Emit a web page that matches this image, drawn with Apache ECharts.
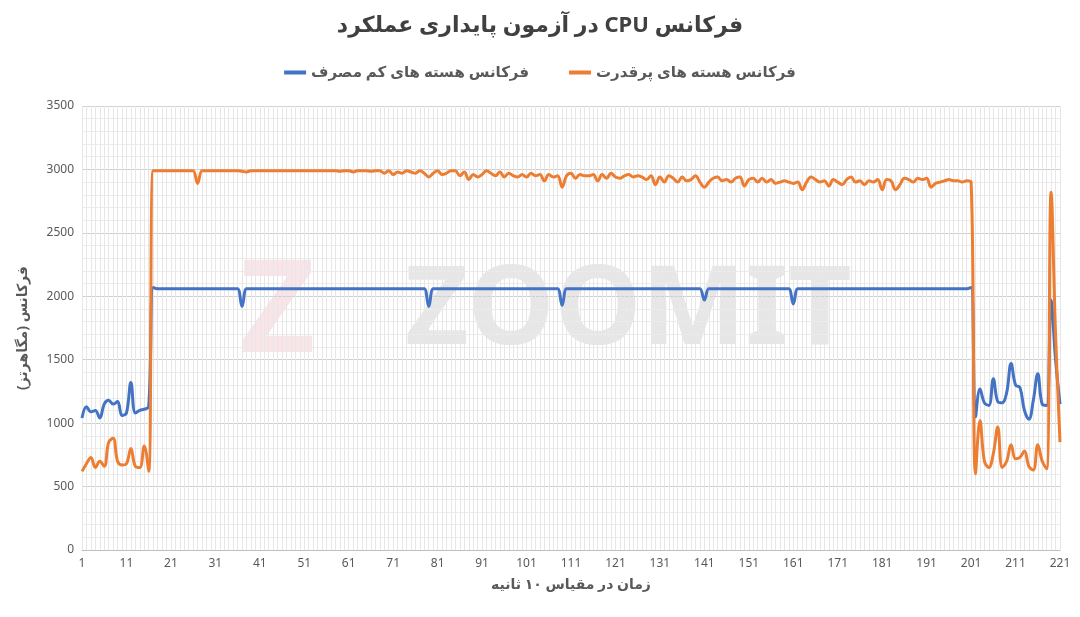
<!DOCTYPE html>
<html>
<head>
<meta charset="utf-8">
<script src="https://cdn.jsdelivr.net/npm/echarts@6/dist/echarts.min.js"></script>
<style>html,body{margin:0;padding:0;background:#fff}#main{width:1080px;height:617px}</style>
</head>
<body>
<div id="main"></div>
<script>
var seriesNames = ['فرکانس هسته های کم مصرف', 'فرکانس هسته های پرقدرت'];

var categories = [];
for (var i = 1; i <= 221; i++) categories.push(String(i));

// هسته های پرقدرت
var bigCores = [
    620,680,730,650,700,660,850,880,700,670,680,800,660,650,820,620,
    2990,2990,2990,2990,
    2990,2990,2990,2990,2990,2990,2890,2990,2990,2990,
    2990,2990,2990,2990,2990,2990,2985,2980,2990,2990,
    2990,2990,2990,2990,2990,2990,2990,2990,2990,2990,
    2990,2990,2990,2990,2990,2990,2990,2990,2985,2990,
    2990,2980,2990,2990,2990,2985,2990,2990,2970,2990,
    2960,2980,2970,2990,2980,2970,2990,2970,2940,2970,
    2990,2960,2970,2990,2990,2950,2980,2920,2960,2940,
    2960,2990,2970,2950,2980,2940,2970,2950,2940,2960,
    2940,2970,2950,2960,2910,2960,2940,2950,2860,2950,
    2970,2930,2960,2950,2950,2960,2910,2960,2930,2970,
    2940,2930,2950,2960,2940,2950,2940,2920,2950,2880,
    2940,2900,2950,2930,2900,2940,2910,2920,2950,2900,
    2860,2900,2930,2940,2910,2920,2900,2930,2940,2870,
    2920,2930,2900,2930,2900,2920,2890,2900,2910,2900,
    2890,2900,2840,2900,2940,2920,2900,2910,2870,2920,
    2900,2880,2920,2940,2900,2910,2880,2910,2900,2920,
    2840,2920,2910,2840,2880,2930,2920,2900,2930,2920,
    2930,2860,2890,2900,2910,2920,2910,2910,2900,2910,
    2900,
    600,1020,700,650,760,970,650,700,830,720,730,780,660,630,830,700,640,2820,1700,850
];

// هسته های کم مصرف
var littleCores = [
    1040,1130,1090,1100,1040,1150,1180,1150,1170,1060,1080,1320,1080,1100,1110,1130,
    2070,2060,2060,2060,2060,2060,2060,2060,2060,2060,2060,2060,2060,2060,2060,2060,2060,2060,2060,2060,
    1920,
    2060,2060,2060,2060,2060,2060,2060,2060,2060,2060,2060,2060,2060,2060,2060,2060,2060,2060,2060,2060,
    2060,2060,2060,2060,2060,2060,2060,2060,2060,2060,2060,2060,2060,2060,2060,2060,2060,2060,2060,2060,2060,
    1920,
    2060,2060,2060,2060,2060,2060,2060,2060,2060,2060,2060,2060,2060,2060,2060,2060,2060,2060,2060,2060,
    2060,2060,2060,2060,2060,2060,2060,2060,2060,
    1930,
    2060,2060,2060,2060,2060,2060,2060,2060,2060,2060,2060,2060,2060,2060,2060,2060,2060,2060,2060,2060,
    2060,2060,2060,2060,2060,2060,2060,2060,2060,2060,2060,
    1970,
    2060,2060,2060,2060,2060,2060,2060,2060,2060,2060,2060,2060,2060,2060,2060,2060,2060,2060,2060,
    1940,
    2060,2060,2060,2060,2060,2060,2060,2060,2060,2060,2060,2060,2060,2060,2060,2060,2060,2060,2060,2060,
    2060,2060,2060,2060,2060,2060,2060,2060,2060,2060,2060,2060,2060,2060,2060,2060,2060,2060,2060,2070,
    1050,1270,1160,1140,1350,1170,1160,1240,1470,1300,1280,1100,1030,1180,1390,1150,1140,1970,1500,1150
];

var font = 'Noto Sans, DejaVu Sans, sans-serif';
var chart = echarts.init(document.getElementById('main'));
chart.setOption({
    animation: false,
    textStyle: {fontFamily: font},
    title: {
        text: '\u202Bفرکانس CPU در آزمون پایداری عملکرد\u202C',
        left: 'center', top: 10,
        textStyle: {fontSize: 22, fontWeight: 'bold', color: '#404040'}
    },
    legend: {
        top: 60, left: 'center', align: 'left', itemGap: 40, itemGap: 40,
        icon: 'rect', itemWidth: 22, itemHeight: 4,
        textStyle: {fontSize: 15, fontWeight: 'bold', color: '#595959'},
        data: seriesNames
    },
    graphic: [{
        type: 'text', left: 405, top: 258, z: 0,
        style: {text: 'ZOOMIT', fontSize: 110, fontWeight: 'bold', fill: 'rgba(160,160,160,0.25)', fontFamily: font}
    }, {
        type: 'text', left: 240, top: 250, z: 0,
        style: {text: 'Z', fontSize: 130, fontWeight: 'bold', fill: 'rgba(230,120,140,0.2)', fontFamily: font}
    }],
    grid: {left: 82, right: 20, top: 106, bottom: 67},
    xAxis: {
        type: 'category', data: categories, boundaryGap: false,
        name: 'زمان در مقیاس ۱۰ ثانیه', nameLocation: 'middle', nameGap: 28,
        nameTextStyle: {fontSize: 14, fontWeight: 'bold', color: '#595959'},
        axisLine: {lineStyle: {color: '#bfbfbf'}},
        axisTick: {show: false},
        axisLabel: {interval: 9, color: '#595959', fontSize: 12},
        splitLine: {show: true, interval: 0, lineStyle: {color: '#e6e6e6'}}
    },
    yAxis: {
        type: 'value', min: 0, max: 3500, interval: 500,
        name: 'فرکانس (مگاهرتز)', nameLocation: 'middle', nameGap: 52,
        nameTextStyle: {fontSize: 14, fontWeight: 'bold', color: '#595959'},
        axisLabel: {color: '#595959', fontSize: 12, formatter: function (v) { return String(v); }},
        splitLine: {lineStyle: {color: '#cfcfcf'}},
        minorTick: {show: false, splitNumber: 5},
        minorSplitLine: {show: true, lineStyle: {color: '#ececec'}}
    },
    series: [{
        name: seriesNames[0], type: 'line', data: littleCores, smooth: 0.4,
        showSymbol: false, z: 3,
        lineStyle: {width: 3, color: '#4472C4'}, itemStyle: {color: '#4472C4'}
    }, {
        name: seriesNames[1], type: 'line', data: bigCores, smooth: 0.4,
        showSymbol: false, z: 4,
        lineStyle: {width: 3, color: '#ED7D31'}, itemStyle: {color: '#ED7D31'}
    }]
});
</script>
</body>
</html>
